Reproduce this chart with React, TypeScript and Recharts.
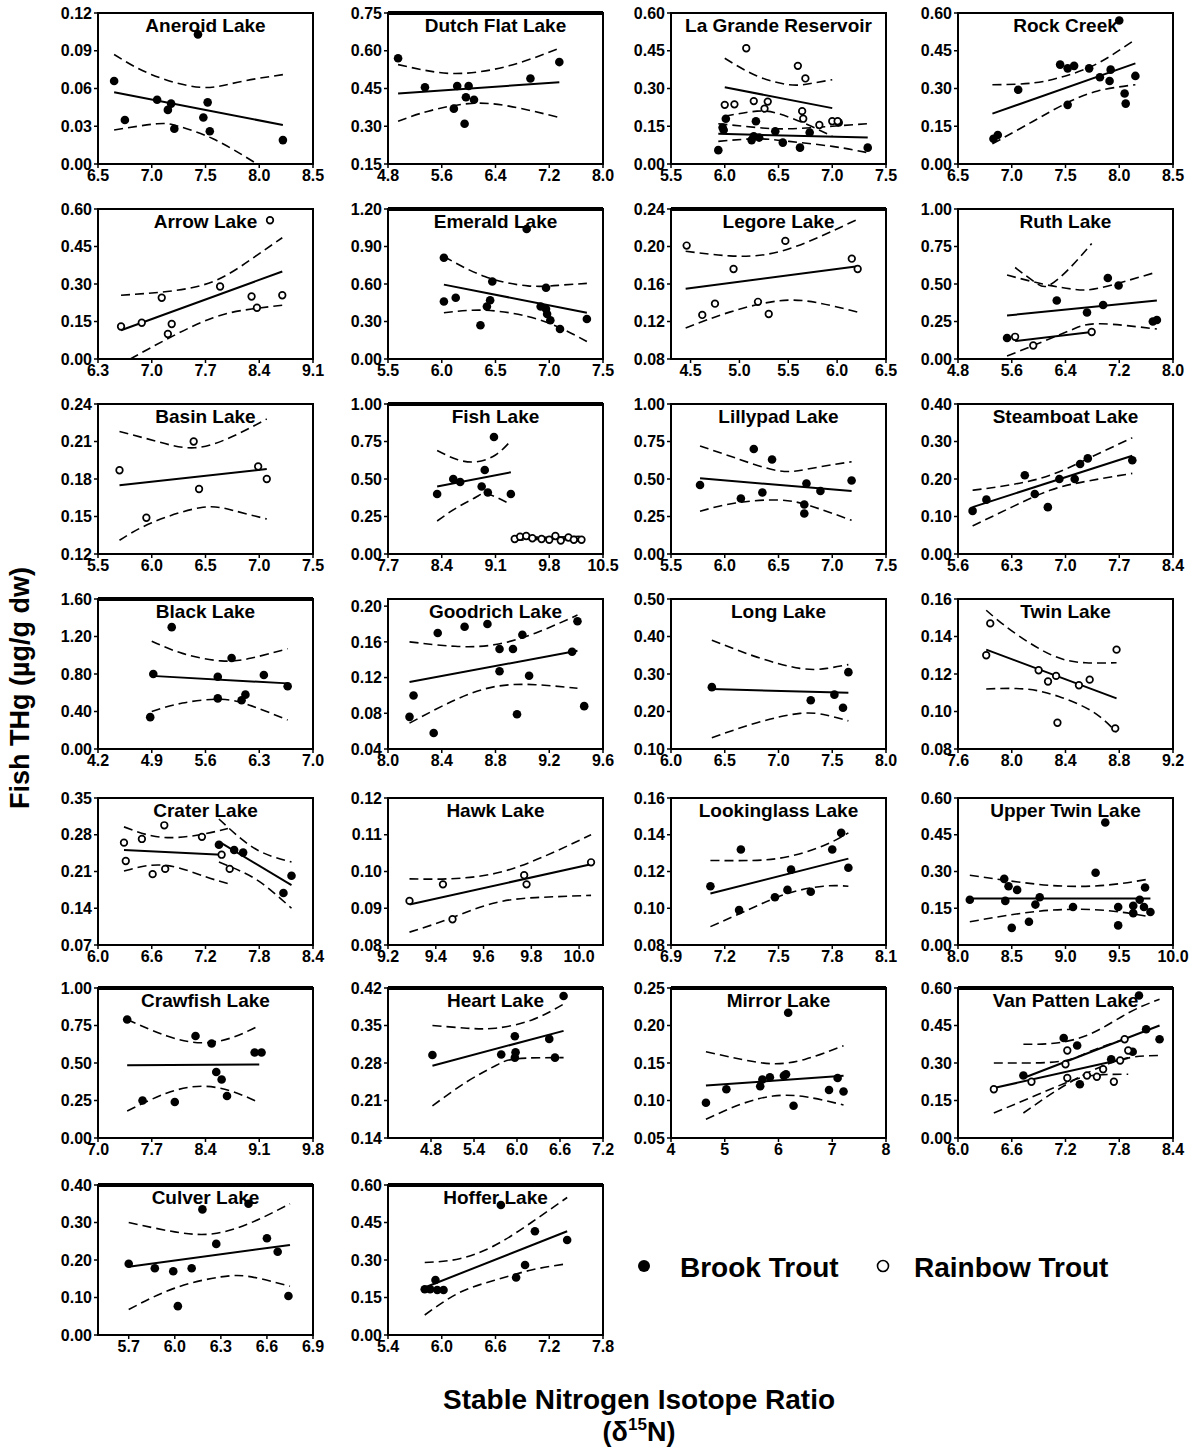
import React from 'react';
import { ComposedChart, Scatter, Line, XAxis, YAxis, ReferenceArea, ReferenceLine, Label } from 'recharts';

type Pt = [number, number];

// ---------- Aneroid Lake ----------
const aneroidX = [6.5, 7.0, 7.5, 8.0, 8.5];
const aneroidY = [0, 0.03, 0.06, 0.09, 0.12];
const aneroidBrook: Pt[] = [[6.65, 0.066], [6.75, 0.035], [7.05, 0.051], [7.15, 0.043], [7.18, 0.048], [7.21, 0.028], [7.43, 0.103], [7.48, 0.037], [7.52, 0.049], [7.54, 0.026], [8.22, 0.019]];
const aneroidFit: Pt[] = [[6.65, 0.057], [8.22, 0.031]];
const aneroidHi: Pt[] = [[6.65, 0.087], [7.0, 0.071], [7.45, 0.061], [7.8, 0.065], [8.22, 0.071]];
const aneroidLo: Pt[] = [[6.65, 0.027], [7.05, 0.032], [7.25, 0.03], [7.57, 0.02], [7.98, 0.0]];

// ---------- Dutch Flat Lake ----------
const dutchX = [4.8, 5.6, 6.4, 7.2, 8.0];
const dutchY = [0.15, 0.3, 0.45, 0.6, 0.75];
const dutchBrook: Pt[] = [[4.95, 0.57], [5.35, 0.455], [5.78, 0.37], [5.83, 0.46], [5.94, 0.31], [5.96, 0.415], [6.0, 0.46], [6.08, 0.405], [6.92, 0.49], [7.35, 0.555]];
const dutchFit: Pt[] = [[4.95, 0.43], [7.35, 0.475]];
const dutchHi: Pt[] = [[4.95, 0.545], [5.4, 0.52], [5.9, 0.51], [6.6, 0.54], [7.35, 0.61]];
const dutchLo: Pt[] = [[4.95, 0.32], [5.4, 0.36], [6.0, 0.39], [6.6, 0.38], [7.35, 0.335]];

// ---------- La Grande Reservoir ----------
const laGrandeX = [5.5, 6.0, 6.5, 7.0, 7.5];
const laGrandeY = [0, 0.15, 0.3, 0.45, 0.6];
const laGrandeBrook: Pt[] = [[5.94, 0.055], [5.98, 0.145], [5.99, 0.135], [6.01, 0.18], [6.25, 0.095], [6.27, 0.11], [6.29, 0.17], [6.32, 0.105], [6.47, 0.13], [6.54, 0.085], [6.7, 0.065], [6.79, 0.125], [7.06, 0.165], [7.33, 0.065]];
const laGrandeRainbow: Pt[] = [[6.0, 0.235], [6.09, 0.237], [6.2, 0.46], [6.27, 0.25], [6.37, 0.22], [6.4, 0.248], [6.68, 0.39], [6.72, 0.21], [6.73, 0.18], [6.75, 0.34], [6.88, 0.155], [7.0, 0.17], [7.05, 0.17]];
const laGrandeBrookFit: Pt[] = [[5.94, 0.12], [7.33, 0.105]];
const laGrandeBrookHi: Pt[] = [[5.94, 0.16], [6.3, 0.145], [6.6, 0.14], [7.0, 0.15], [7.33, 0.16]];
const laGrandeBrookLo: Pt[] = [[5.94, 0.09], [6.3, 0.1], [6.6, 0.09], [7.0, 0.07], [7.33, 0.045]];
const laGrandeRainbowFit: Pt[] = [[6.0, 0.305], [7.0, 0.222]];
const laGrandeRainbowHi: Pt[] = [[6.0, 0.42], [6.3, 0.35], [6.6, 0.315], [6.8, 0.32], [7.0, 0.335]];
const laGrandeRainbowLo: Pt[] = [[6.0, 0.19], [6.3, 0.21], [6.5, 0.2], [6.75, 0.16], [7.0, 0.11]];

// ---------- Rock Creek ----------
const rockX = [6.5, 7.0, 7.5, 8.0, 8.5];
const rockY = [0, 0.15, 0.3, 0.45, 0.6];
const rockBrook: Pt[] = [[6.83, 0.1], [6.87, 0.115], [7.06, 0.295], [7.45, 0.395], [7.52, 0.38], [7.52, 0.235], [7.58, 0.39], [7.72, 0.38], [7.82, 0.345], [7.91, 0.33], [7.92, 0.375], [8.0, 0.57], [8.05, 0.28], [8.06, 0.24], [8.15, 0.35]];
const rockFit: Pt[] = [[6.82, 0.2], [8.15, 0.4]];
const rockHi: Pt[] = [[6.82, 0.315], [7.2, 0.322], [7.5, 0.35], [7.8, 0.4], [8.15, 0.495]];
const rockLo: Pt[] = [[6.82, 0.08], [7.2, 0.17], [7.5, 0.24], [7.8, 0.29], [8.15, 0.315]];

// ---------- Arrow Lake ----------
const arrowX = [6.3, 7.0, 7.7, 8.4, 9.1];
const arrowY = [0, 0.15, 0.3, 0.45, 0.6];
const arrowRainbow: Pt[] = [[6.6, 0.13], [6.87, 0.145], [7.13, 0.245], [7.21, 0.1], [7.26, 0.14], [7.89, 0.29], [8.3, 0.25], [8.37, 0.205], [8.54, 0.555], [8.7, 0.255]];
const arrowFit: Pt[] = [[6.6, 0.115], [8.7, 0.35]];
const arrowHi: Pt[] = [[6.6, 0.255], [7.2, 0.27], [7.8, 0.31], [8.3, 0.4], [8.7, 0.485]];
const arrowLo: Pt[] = [[6.72, 0.0], [7.2, 0.08], [7.8, 0.165], [8.3, 0.2], [8.7, 0.215]];

// ---------- Emerald Lake ----------
const emeraldX = [5.5, 6.0, 6.5, 7.0, 7.5];
const emeraldY = [0, 0.3, 0.6, 0.9, 1.2];
const emeraldBrook: Pt[] = [[6.02, 0.81], [6.02, 0.46], [6.13, 0.49], [6.36, 0.27], [6.42, 0.42], [6.45, 0.47], [6.47, 0.62], [6.79, 1.04], [6.92, 0.42], [6.97, 0.57], [6.97, 0.4], [6.98, 0.36], [7.01, 0.31], [7.1, 0.24], [7.35, 0.32]];
const emeraldFit: Pt[] = [[6.02, 0.595], [7.35, 0.37]];
const emeraldHi: Pt[] = [[6.02, 0.82], [6.4, 0.66], [6.8, 0.585], [7.1, 0.59], [7.35, 0.605]];
const emeraldLo: Pt[] = [[6.02, 0.37], [6.4, 0.39], [6.8, 0.34], [7.1, 0.25], [7.35, 0.14]];

// ---------- Legore Lake ----------
const legoreX = [4.5, 5.0, 5.5, 6.0, 6.5];
const legoreY = [0.08, 0.12, 0.16, 0.2, 0.24];
const legoreRainbow: Pt[] = [[4.46, 0.201], [4.62, 0.127], [4.75, 0.139], [4.94, 0.176], [5.19, 0.141], [5.3, 0.128], [5.47, 0.206], [6.15, 0.187], [6.21, 0.176]];
const legoreFit: Pt[] = [[4.45, 0.155], [6.21, 0.179]];
const legoreHi: Pt[] = [[4.45, 0.195], [4.9, 0.19], [5.3, 0.192], [5.7, 0.205], [6.21, 0.229]];
const legoreLo: Pt[] = [[4.45, 0.113], [4.9, 0.13], [5.4, 0.142], [5.8, 0.14], [6.21, 0.13]];

// ---------- Ruth Lake ----------
const ruthX = [4.8, 5.6, 6.4, 7.2, 8.0];
const ruthY = [0, 0.25, 0.5, 0.75, 1.0];
const ruthBrook: Pt[] = [[5.53, 0.14], [6.27, 0.39], [6.72, 0.31], [6.96, 0.36], [7.03, 0.54], [7.19, 0.49], [7.7, 0.25], [7.76, 0.26]];
const ruthRainbow: Pt[] = [[5.65, 0.148], [5.92, 0.09], [6.79, 0.18]];
const ruthBrookFit: Pt[] = [[5.53, 0.29], [7.76, 0.39]];
const ruthBrookHi: Pt[] = [[5.53, 0.56], [6.06, 0.5], [6.52, 0.465], [6.92, 0.475], [7.76, 0.58]];
const ruthBrookLo: Pt[] = [[5.53, 0.02], [6.06, 0.115], [6.52, 0.2], [6.92, 0.235], [7.76, 0.2]];
const ruthRainbowFit: Pt[] = [[5.65, 0.12], [6.79, 0.18]];
const ruthRainbowHi: Pt[] = [[5.65, 0.61], [5.95, 0.51], [6.15, 0.49], [6.45, 0.6], [6.79, 0.77]];

// ---------- Basin Lake ----------
const basinX = [5.5, 6.0, 6.5, 7.0, 7.5];
const basinY = [0.12, 0.15, 0.18, 0.21, 0.24];
const basinRainbow: Pt[] = [[5.7, 0.187], [5.95, 0.149], [6.39, 0.21], [6.44, 0.172], [6.99, 0.19], [7.07, 0.18]];
const basinFit: Pt[] = [[5.7, 0.175], [7.07, 0.188]];
const basinHi: Pt[] = [[5.7, 0.218], [6.05, 0.21], [6.4, 0.205], [6.75, 0.214], [7.07, 0.228]];
const basinLo: Pt[] = [[5.7, 0.131], [6.0, 0.145], [6.45, 0.157], [6.75, 0.155], [7.07, 0.148]];

// ---------- Fish Lake ----------
const fishX = [7.7, 8.4, 9.1, 9.8, 10.5];
const fishY = [0, 0.25, 0.5, 0.75, 1.0];
const fishBrook: Pt[] = [[8.34, 0.4], [8.55, 0.5], [8.64, 0.48], [8.92, 0.45], [8.96, 0.56], [9.0, 0.41], [9.08, 0.78], [9.3, 0.4]];
const fishRainbow: Pt[] = [[9.35, 0.1], [9.42, 0.115], [9.5, 0.12], [9.58, 0.105], [9.7, 0.1], [9.8, 0.095], [9.88, 0.12], [9.95, 0.09], [10.05, 0.11], [10.12, 0.095], [10.22, 0.095]];
const fishBrookFit: Pt[] = [[8.34, 0.45], [9.3, 0.545]];
const fishBrookHi: Pt[] = [[8.34, 0.69], [8.6, 0.63], [8.85, 0.615], [9.1, 0.66], [9.3, 0.755]];
const fishBrookLo: Pt[] = [[8.34, 0.22], [8.6, 0.31], [8.85, 0.38], [9.0, 0.4], [9.3, 0.33]];
const fishRainbowFit: Pt[] = [[9.35, 0.105], [10.22, 0.1]];
const fishRainbowHi: Pt[] = [[9.35, 0.115], [9.8, 0.112], [10.22, 0.118]];
const fishRainbowLo: Pt[] = [[9.35, 0.09], [9.8, 0.098], [10.22, 0.085]];

// ---------- Lillypad Lake ----------
const lillyX = [5.5, 6.0, 6.5, 7.0, 7.5];
const lillyY = [0, 0.25, 0.5, 0.75, 1.0];
const lillyBrook: Pt[] = [[5.77, 0.46], [6.15, 0.37], [6.27, 0.7], [6.35, 0.41], [6.44, 0.63], [6.74, 0.33], [6.74, 0.27], [6.76, 0.47], [6.89, 0.42], [7.18, 0.49]];
const lillyFit: Pt[] = [[5.77, 0.505], [7.18, 0.42]];
const lillyHi: Pt[] = [[5.77, 0.72], [6.1, 0.64], [6.5, 0.555], [6.8, 0.57], [7.18, 0.615]];
const lillyLo: Pt[] = [[5.77, 0.285], [6.1, 0.34], [6.5, 0.36], [6.8, 0.32], [7.18, 0.225]];

// ---------- Steamboat Lake ----------
const steamX = [5.6, 6.3, 7.0, 7.7, 8.4];
const steamY = [0, 0.1, 0.2, 0.3, 0.4];
const steamBrook: Pt[] = [[5.79, 0.115], [5.97, 0.145], [6.47, 0.21], [6.6, 0.16], [6.77, 0.125], [6.92, 0.2], [7.12, 0.2], [7.19, 0.24], [7.29, 0.255], [7.87, 0.25]];
const steamFit: Pt[] = [[5.79, 0.125], [7.87, 0.262]];
const steamHi: Pt[] = [[5.79, 0.17], [6.3, 0.185], [6.8, 0.21], [7.3, 0.255], [7.87, 0.31]];
const steamLo: Pt[] = [[5.79, 0.075], [6.3, 0.125], [6.8, 0.17], [7.3, 0.195], [7.87, 0.215]];

// ---------- Black Lake ----------
const blackX = [4.2, 4.9, 5.6, 6.3, 7.0];
const blackY = [0, 0.4, 0.8, 1.2, 1.6];
const blackBrook: Pt[] = [[4.88, 0.34], [4.92, 0.8], [5.16, 1.3], [5.76, 0.77], [5.76, 0.54], [5.94, 0.97], [6.07, 0.52], [6.12, 0.58], [6.36, 0.79], [6.67, 0.67]];
const blackFit: Pt[] = [[4.9, 0.78], [6.67, 0.7]];
const blackHi: Pt[] = [[4.9, 1.15], [5.3, 1.02], [5.8, 0.94], [6.2, 0.97], [6.67, 1.07]];
const blackLo: Pt[] = [[4.9, 0.4], [5.3, 0.49], [5.8, 0.53], [6.2, 0.46], [6.67, 0.31]];

// ---------- Goodrich Lake ----------
const goodrichX = [8.0, 8.4, 8.8, 9.2, 9.6];
const goodrichY = [0.04, 0.08, 0.12, 0.16, 0.2];
const goodrichBrook: Pt[] = [[8.16, 0.076], [8.19, 0.1], [8.34, 0.058], [8.37, 0.17], [8.57, 0.177], [8.74, 0.18], [8.83, 0.152], [8.83, 0.127], [8.93, 0.152], [8.96, 0.079], [9.0, 0.168], [9.05, 0.122], [9.37, 0.149], [9.41, 0.183], [9.46, 0.088]];
const goodrichFit: Pt[] = [[8.16, 0.115], [9.41, 0.15]];
const goodrichHi: Pt[] = [[8.16, 0.16], [8.5, 0.155], [8.8, 0.157], [9.1, 0.17], [9.41, 0.19]];
const goodrichLo: Pt[] = [[8.16, 0.069], [8.5, 0.095], [8.8, 0.11], [9.1, 0.112], [9.41, 0.108]];

// ---------- Long Lake ----------
const longX = [6.0, 6.5, 7.0, 7.5, 8.0];
const longY = [0.1, 0.2, 0.3, 0.4, 0.5];
const longBrook: Pt[] = [[6.38, 0.265], [7.3, 0.23], [7.52, 0.245], [7.6, 0.21], [7.65, 0.305]];
const longFit: Pt[] = [[6.38, 0.26], [7.65, 0.25]];
const longHi: Pt[] = [[6.38, 0.39], [6.8, 0.345], [7.2, 0.315], [7.45, 0.315], [7.65, 0.325]];
const longLo: Pt[] = [[6.38, 0.13], [6.8, 0.17], [7.2, 0.195], [7.45, 0.19], [7.65, 0.175]];

// ---------- Twin Lake ----------
const twinX = [7.6, 8.0, 8.4, 8.8, 9.2];
const twinY = [0.08, 0.1, 0.12, 0.14, 0.16];
const twinRainbow: Pt[] = [[7.81, 0.13], [7.84, 0.147], [8.2, 0.122], [8.27, 0.116], [8.33, 0.119], [8.34, 0.094], [8.5, 0.114], [8.58, 0.117], [8.77, 0.091], [8.78, 0.133]];
const twinFit: Pt[] = [[7.81, 0.133], [8.78, 0.107]];
const twinHi: Pt[] = [[7.81, 0.154], [8.0, 0.143], [8.3, 0.13], [8.55, 0.126], [8.78, 0.126]];
const twinLo: Pt[] = [[7.81, 0.112], [8.1, 0.112], [8.35, 0.108], [8.6, 0.1], [8.78, 0.089]];

// ---------- Crater Lake ----------
const craterX = [6.0, 6.6, 7.2, 7.8, 8.4];
const craterY = [0.07, 0.14, 0.21, 0.28, 0.35];
const craterBrook: Pt[] = [[7.35, 0.261], [7.52, 0.251], [7.62, 0.246], [8.07, 0.169], [8.16, 0.202]];
const craterRainbow: Pt[] = [[6.29, 0.265], [6.31, 0.23], [6.49, 0.272], [6.61, 0.205], [6.74, 0.298], [6.75, 0.215], [7.16, 0.276], [7.38, 0.242], [7.47, 0.215]];
const craterBrookFit: Pt[] = [[7.35, 0.267], [8.16, 0.184]];
const craterBrookHi: Pt[] = [[7.35, 0.31], [7.6, 0.272], [7.85, 0.245], [8.16, 0.228]];
const craterBrookLo: Pt[] = [[7.35, 0.228], [7.6, 0.21], [7.85, 0.185], [8.16, 0.14]];
const craterRainbowFit: Pt[] = [[6.29, 0.251], [7.38, 0.242]];
const craterRainbowHi: Pt[] = [[6.29, 0.295], [6.6, 0.278], [6.9, 0.275], [7.2, 0.282], [7.45, 0.292]];
const craterRainbowLo: Pt[] = [[6.29, 0.211], [6.6, 0.222], [6.9, 0.217], [7.2, 0.2], [7.45, 0.187]];

// ---------- Hawk Lake ----------
const hawkX = [9.2, 9.4, 9.6, 9.8, 10.0];
const hawkY = [0.08, 0.09, 0.1, 0.11, 0.12];
const hawkRainbow: Pt[] = [[9.29, 0.092], [9.43, 0.0965], [9.47, 0.087], [9.77, 0.099], [9.78, 0.0965], [10.05, 0.1025]];
const hawkFit: Pt[] = [[9.29, 0.091], [10.05, 0.102]];
const hawkHi: Pt[] = [[9.29, 0.098], [9.45, 0.098], [9.65, 0.0995], [9.85, 0.104], [10.05, 0.11]];
const hawkLo: Pt[] = [[9.29, 0.0835], [9.45, 0.087], [9.65, 0.0915], [9.85, 0.093], [10.05, 0.0935]];

// ---------- Lookinglass Lake ----------
const lookX = [6.9, 7.2, 7.5, 7.8, 8.1];
const lookY = [0.08, 0.1, 0.12, 0.14, 0.16];
const lookBrook: Pt[] = [[7.12, 0.112], [7.28, 0.099], [7.29, 0.132], [7.48, 0.106], [7.55, 0.11], [7.57, 0.121], [7.68, 0.109], [7.8, 0.132], [7.85, 0.141], [7.89, 0.122]];
const lookFit: Pt[] = [[7.12, 0.108], [7.89, 0.127]];
const lookHi: Pt[] = [[7.12, 0.126], [7.35, 0.126], [7.55, 0.128], [7.75, 0.134], [7.89, 0.141]];
const lookLo: Pt[] = [[7.12, 0.09], [7.35, 0.1], [7.55, 0.108], [7.75, 0.112], [7.89, 0.112]];

// ---------- Upper Twin Lake ----------
const upperTwinX = [8.0, 8.5, 9.0, 9.5, 10.0];
const upperTwinY = [0, 0.15, 0.3, 0.45, 0.6];
const upperTwinBrook: Pt[] = [[8.11, 0.185], [8.43, 0.27], [8.44, 0.18], [8.47, 0.24], [8.5, 0.07], [8.55, 0.225], [8.66, 0.095], [8.72, 0.165], [8.76, 0.195], [9.07, 0.155], [9.28, 0.295], [9.37, 0.5], [9.49, 0.155], [9.49, 0.08], [9.63, 0.16], [9.63, 0.13], [9.69, 0.185], [9.73, 0.155], [9.74, 0.235], [9.79, 0.135]];
const upperTwinFit: Pt[] = [[8.11, 0.19], [9.79, 0.19]];
const upperTwinHi: Pt[] = [[8.11, 0.285], [8.6, 0.255], [9.0, 0.24], [9.4, 0.245], [9.79, 0.27]];
const upperTwinLo: Pt[] = [[8.11, 0.095], [8.6, 0.13], [9.0, 0.145], [9.4, 0.14], [9.79, 0.115]];

// ---------- Crawfish Lake ----------
const crawX = [7.0, 7.7, 8.4, 9.1, 9.8];
const crawY = [0, 0.25, 0.5, 0.75, 1.0];
const crawBrook: Pt[] = [[7.38, 0.79], [7.58, 0.25], [8.0, 0.24], [8.27, 0.68], [8.48, 0.63], [8.54, 0.44], [8.61, 0.39], [8.68, 0.28], [9.04, 0.57], [9.13, 0.57]];
const crawFit: Pt[] = [[7.38, 0.485], [9.1, 0.49]];
const crawHi: Pt[] = [[7.38, 0.79], [7.9, 0.68], [8.35, 0.635], [8.75, 0.67], [9.1, 0.75]];
const crawLo: Pt[] = [[7.38, 0.18], [7.9, 0.3], [8.35, 0.345], [8.75, 0.31], [9.1, 0.235]];

// ---------- Heart Lake ----------
const heartX = [4.8, 5.4, 6.0, 6.6, 7.2];
const heartY = [0.14, 0.21, 0.28, 0.35, 0.42];
const heartBrook: Pt[] = [[4.82, 0.295], [5.78, 0.296], [5.97, 0.33], [5.97, 0.29], [5.98, 0.3], [6.45, 0.325], [6.53, 0.29], [6.65, 0.405]];
const heartFit: Pt[] = [[4.82, 0.275], [6.65, 0.34]];
const heartHi: Pt[] = [[4.82, 0.35], [5.3, 0.345], [5.7, 0.345], [6.2, 0.36], [6.65, 0.39]];
const heartLo: Pt[] = [[4.82, 0.2], [5.3, 0.245], [5.7, 0.275], [6.0, 0.288], [6.65, 0.29]];

// ---------- Mirror Lake ----------
const mirrorX = [4, 5, 6, 7, 8];
const mirrorY = [0.05, 0.1, 0.15, 0.2, 0.25];
const mirrorBrook: Pt[] = [[4.65, 0.097], [5.03, 0.115], [5.66, 0.119], [5.7, 0.128], [5.84, 0.131], [6.1, 0.133], [6.14, 0.135], [6.18, 0.217], [6.28, 0.093], [6.94, 0.114], [7.1, 0.13], [7.21, 0.112]];
const mirrorFit: Pt[] = [[4.65, 0.12], [7.21, 0.133]];
const mirrorHi: Pt[] = [[4.65, 0.165], [5.3, 0.155], [5.9, 0.149], [6.5, 0.155], [7.21, 0.173]];
const mirrorLo: Pt[] = [[4.65, 0.075], [5.3, 0.095], [5.9, 0.106], [6.5, 0.105], [7.21, 0.094]];

// ---------- Van Patten Lake ----------
const vanX = [6.0, 6.6, 7.2, 7.8, 8.4];
const vanY = [0, 0.15, 0.3, 0.45, 0.6];
const vanBrook: Pt[] = [[6.73, 0.25], [7.18, 0.4], [7.33, 0.37], [7.36, 0.215], [7.71, 0.315], [7.95, 0.345], [8.02, 0.57], [8.1, 0.435], [8.25, 0.395]];
const vanRainbow: Pt[] = [[6.4, 0.195], [6.82, 0.225], [7.2, 0.295], [7.22, 0.35], [7.22, 0.24], [7.44, 0.25], [7.55, 0.245], [7.62, 0.275], [7.74, 0.225], [7.81, 0.31], [7.86, 0.395], [7.9, 0.35]];
const vanBrookFit: Pt[] = [[6.73, 0.24], [8.25, 0.45]];
const vanBrookHi: Pt[] = [[6.73, 0.375], [7.1, 0.38], [7.5, 0.42], [7.9, 0.5], [8.25, 0.555]];
const vanBrookLo: Pt[] = [[6.73, 0.1], [7.1, 0.19], [7.5, 0.27], [7.9, 0.32], [8.25, 0.33]];
const vanRainbowFit: Pt[] = [[6.4, 0.2], [7.9, 0.32]];
const vanRainbowHi: Pt[] = [[6.4, 0.3], [6.8, 0.3], [7.2, 0.31], [7.5, 0.35], [7.9, 0.4]];
const vanRainbowLo: Pt[] = [[6.4, 0.1], [6.8, 0.16], [7.2, 0.22], [7.5, 0.25], [7.9, 0.255]];

// ---------- Culver Lake ----------
const culverX = [5.7, 6.0, 6.3, 6.6, 6.9];
const culverY = [0, 0.1, 0.2, 0.3, 0.4];
const culverBrook: Pt[] = [[5.7, 0.19], [5.87, 0.178], [5.99, 0.17], [6.02, 0.077], [6.11, 0.178], [6.18, 0.335], [6.27, 0.243], [6.48, 0.35], [6.6, 0.258], [6.67, 0.222], [6.74, 0.104]];
const culverFit: Pt[] = [[5.7, 0.182], [6.75, 0.24]];
const culverHi: Pt[] = [[5.7, 0.3], [6.0, 0.275], [6.25, 0.27], [6.5, 0.3], [6.75, 0.35]];
const culverLo: Pt[] = [[5.7, 0.068], [6.0, 0.125], [6.3, 0.155], [6.5, 0.155], [6.75, 0.13]];

// ---------- Hoffer Lake ----------
const hofferX = [5.4, 6.0, 6.6, 7.2, 7.8];
const hofferY = [0, 0.15, 0.3, 0.45, 0.6];
const hofferBrook: Pt[] = [[5.81, 0.183], [5.87, 0.183], [5.93, 0.22], [5.95, 0.18], [6.02, 0.18], [6.66, 0.52], [6.83, 0.23], [6.93, 0.28], [7.04, 0.415], [7.4, 0.38]];
const hofferFit: Pt[] = [[5.81, 0.19], [7.4, 0.415]];
const hofferHi: Pt[] = [[5.81, 0.29], [6.2, 0.305], [6.6, 0.36], [7.0, 0.45], [7.4, 0.55]];
const hofferLo: Pt[] = [[5.81, 0.08], [6.2, 0.17], [6.6, 0.22], [7.0, 0.26], [7.4, 0.285]];

interface Panel {
  title: string;
  col: number;
  row: number;
  xTicks: number[];
  yTicks: number[];
  xMin?: number;
  xMax?: number;
  yMax?: number;
  xDigits?: number;
  brook?: Pt[];
  rainbow?: Pt[];
  fits: Pt[][];
  bands: Pt[][];
  heavyTop?: boolean;
}

const PANELS: Panel[] = [
  { title: 'Aneroid Lake', col: 0, row: 0, xTicks: aneroidX, yTicks: aneroidY, brook: aneroidBrook, fits: [aneroidFit], bands: [aneroidHi, aneroidLo] },
  { title: 'Dutch Flat Lake', col: 1, row: 0, xTicks: dutchX, yTicks: dutchY, brook: dutchBrook, fits: [dutchFit], bands: [dutchHi, dutchLo], heavyTop: true },
  { title: 'La Grande Reservoir', col: 2, row: 0, xTicks: laGrandeX, yTicks: laGrandeY, brook: laGrandeBrook, rainbow: laGrandeRainbow, fits: [laGrandeBrookFit, laGrandeRainbowFit], bands: [laGrandeBrookHi, laGrandeBrookLo, laGrandeRainbowHi, laGrandeRainbowLo] },
  { title: 'Rock Creek', col: 3, row: 0, xTicks: rockX, yTicks: rockY, brook: rockBrook, fits: [rockFit], bands: [rockHi, rockLo] },
  { title: 'Arrow Lake', col: 0, row: 1, xTicks: arrowX, yTicks: arrowY, rainbow: arrowRainbow, fits: [arrowFit], bands: [arrowHi, arrowLo] },
  { title: 'Emerald Lake', col: 1, row: 1, xTicks: emeraldX, yTicks: emeraldY, brook: emeraldBrook, fits: [emeraldFit], bands: [emeraldHi, emeraldLo], heavyTop: true },
  { title: 'Legore Lake', col: 2, row: 1, xTicks: legoreX, yTicks: legoreY, xMin: 4.3, rainbow: legoreRainbow, fits: [legoreFit], bands: [legoreHi, legoreLo], heavyTop: true },
  { title: 'Ruth Lake', col: 3, row: 1, xTicks: ruthX, yTicks: ruthY, brook: ruthBrook, rainbow: ruthRainbow, fits: [ruthBrookFit, ruthRainbowFit], bands: [ruthBrookHi, ruthBrookLo, ruthRainbowHi] },
  { title: 'Basin Lake', col: 0, row: 2, xTicks: basinX, yTicks: basinY, rainbow: basinRainbow, fits: [basinFit], bands: [basinHi, basinLo] },
  { title: 'Fish Lake', col: 1, row: 2, xTicks: fishX, yTicks: fishY, brook: fishBrook, rainbow: fishRainbow, fits: [fishBrookFit, fishRainbowFit], bands: [fishBrookHi, fishBrookLo, fishRainbowHi, fishRainbowLo], heavyTop: true },
  { title: 'Lillypad Lake', col: 2, row: 2, xTicks: lillyX, yTicks: lillyY, brook: lillyBrook, fits: [lillyFit], bands: [lillyHi, lillyLo] },
  { title: 'Steamboat Lake', col: 3, row: 2, xTicks: steamX, yTicks: steamY, brook: steamBrook, fits: [steamFit], bands: [steamHi, steamLo] },
  { title: 'Black Lake', col: 0, row: 3, xTicks: blackX, yTicks: blackY, brook: blackBrook, fits: [blackFit], bands: [blackHi, blackLo], heavyTop: true },
  { title: 'Goodrich Lake', col: 1, row: 3, xTicks: goodrichX, yTicks: goodrichY, yMax: 0.208, brook: goodrichBrook, fits: [goodrichFit], bands: [goodrichHi, goodrichLo] },
  { title: 'Long Lake', col: 2, row: 3, xTicks: longX, yTicks: longY, brook: longBrook, fits: [longFit], bands: [longHi, longLo] },
  { title: 'Twin Lake', col: 3, row: 3, xTicks: twinX, yTicks: twinY, rainbow: twinRainbow, fits: [twinFit], bands: [twinHi, twinLo] },
  { title: 'Crater Lake', col: 0, row: 4, xTicks: craterX, yTicks: craterY, brook: craterBrook, rainbow: craterRainbow, fits: [craterBrookFit, craterRainbowFit], bands: [craterBrookHi, craterBrookLo, craterRainbowHi, craterRainbowLo] },
  { title: 'Hawk Lake', col: 1, row: 4, xTicks: hawkX, yTicks: hawkY, xMax: 10.1, rainbow: hawkRainbow, fits: [hawkFit], bands: [hawkHi, hawkLo] },
  { title: 'Lookinglass Lake', col: 2, row: 4, xTicks: lookX, yTicks: lookY, brook: lookBrook, fits: [lookFit], bands: [lookHi, lookLo] },
  { title: 'Upper Twin Lake', col: 3, row: 4, xTicks: upperTwinX, yTicks: upperTwinY, brook: upperTwinBrook, fits: [upperTwinFit], bands: [upperTwinHi, upperTwinLo] },
  { title: 'Crawfish Lake', col: 0, row: 5, xTicks: crawX, yTicks: crawY, brook: crawBrook, fits: [crawFit], bands: [crawHi, crawLo], heavyTop: true },
  { title: 'Heart Lake', col: 1, row: 5, xTicks: heartX, yTicks: heartY, xMin: 4.2, brook: heartBrook, fits: [heartFit], bands: [heartHi, heartLo], heavyTop: true },
  { title: 'Mirror Lake', col: 2, row: 5, xTicks: mirrorX, yTicks: mirrorY, xDigits: 0, brook: mirrorBrook, fits: [mirrorFit], bands: [mirrorHi, mirrorLo], heavyTop: true },
  { title: 'Van Patten Lake', col: 3, row: 5, xTicks: vanX, yTicks: vanY, brook: vanBrook, rainbow: vanRainbow, fits: [vanBrookFit, vanRainbowFit], bands: [vanBrookHi, vanBrookLo, vanRainbowHi, vanRainbowLo], heavyTop: true },
  { title: 'Culver Lake', col: 0, row: 6, xTicks: culverX, yTicks: culverY, xMin: 5.5, brook: culverBrook, fits: [culverFit], bands: [culverHi, culverLo], heavyTop: true },
  { title: 'Hoffer Lake', col: 1, row: 6, xTicks: hofferX, yTicks: hofferY, brook: hofferBrook, fits: [hofferFit], bands: [hofferHi, hofferLo], heavyTop: true },
];

// ---------- layout ----------
const FONT = "'Liberation Sans', Arial, Helvetica, sans-serif";
const COL_X = [98, 388, 671, 958];
const ROW_Y = [13, 209, 404, 599, 798, 988, 1185];
const ROW_H = [151, 150, 150, 150, 147, 150, 150];
const PLOT_W = 215;
const AXIS_W = 60;
const TOP_PAD = 12;
const RIGHT_PAD = 20;
const XAXIS_H = 28;

const toRows = (pts: Pt[]) => pts.map(([x, y]) => ({ x, y }));

const BrookDot = (props: any) => <circle cx={props.cx} cy={props.cy} r={4.3} fill="#000" />;
const RainbowDot = (props: any) => (
  <circle cx={props.cx} cy={props.cy} r={3.3} fill="#fff" stroke="#000" strokeWidth={1.7} />
);

function LakePanel({ p }: { p: Panel }) {
  const h = ROW_H[p.row];
  const xd: [number, number] = [p.xMin ?? p.xTicks[0], p.xMax ?? p.xTicks[p.xTicks.length - 1]];
  const yd: [number, number] = [p.yTicks[0], p.yMax ?? p.yTicks[p.yTicks.length - 1]];
  const tick = { fill: '#000', fontSize: 16, fontWeight: 700, fontFamily: FONT };
  return (
    <div style={{ position: 'absolute', left: COL_X[p.col] - AXIS_W, top: ROW_Y[p.row] - TOP_PAD }}>
      <ComposedChart
        width={AXIS_W + PLOT_W + RIGHT_PAD}
        height={TOP_PAD + h + XAXIS_H}
        margin={{ top: TOP_PAD, right: RIGHT_PAD, bottom: 0, left: 0 }}
      >
        <XAxis
          type="number"
          dataKey="x"
          domain={xd}
          ticks={p.xTicks}
          interval={0}
          allowDataOverflow
          height={XAXIS_H}
          tickFormatter={(v: number) => Number(v).toFixed(p.xDigits ?? 1)}
          tick={tick}
          tickSize={4}
          tickMargin={2}
          axisLine={{ stroke: '#000', strokeWidth: 2 }}
          tickLine={{ stroke: '#000', strokeWidth: 1.5 }}
        />
        <YAxis
          type="number"
          dataKey="y"
          domain={yd}
          ticks={p.yTicks}
          interval={0}
          allowDataOverflow
          width={AXIS_W}
          tickFormatter={(v: number) => Number(v).toFixed(2)}
          tick={tick}
          tickSize={4}
          tickMargin={2}
          axisLine={{ stroke: '#000', strokeWidth: 2 }}
          tickLine={{ stroke: '#000', strokeWidth: 1.5 }}
        />
        <ReferenceArea x1={xd[0]} x2={xd[1]} y1={yd[0]} y2={yd[1]} fill="none" fillOpacity={0} stroke="#000" strokeWidth={2}>
          <Label value={p.title} position="insideTop" offset={6} fill="#000" fontSize={19} fontWeight={700} fontFamily={FONT} />
        </ReferenceArea>
        {p.heavyTop && <ReferenceLine y={yd[1]} stroke="#000" strokeWidth={4} />}
        {p.bands.map((b, i) => (
          <Line
            key={`band-${i}`}
            data={toRows(b)}
            dataKey="y"
            type="natural"
            stroke="#000"
            strokeWidth={1.6}
            strokeDasharray="9 5"
            dot={false}
            activeDot={false}
            isAnimationActive={false}
          />
        ))}
        {p.fits.map((f, i) => (
          <Line
            key={`fit-${i}`}
            data={toRows(f)}
            dataKey="y"
            type="linear"
            stroke="#000"
            strokeWidth={2}
            dot={false}
            activeDot={false}
            isAnimationActive={false}
          />
        ))}
        {p.brook && <Scatter data={toRows(p.brook)} dataKey="y" shape={BrookDot} isAnimationActive={false} />}
        {p.rainbow && <Scatter data={toRows(p.rainbow)} dataKey="y" shape={RainbowDot} isAnimationActive={false} />}
      </ComposedChart>
    </div>
  );
}

export default function App() {
  return (
    <div style={{ position: 'absolute', left: 0, top: 0, width: 1204, height: 1452, background: '#fff', fontFamily: FONT }}>
      {PANELS.map((p) => (
        <LakePanel key={p.title} p={p} />
      ))}
      <svg width={1204} height={1452} style={{ position: 'absolute', left: 0, top: 0, pointerEvents: 'none' }}>
        <text
          transform="translate(29,688) rotate(-90)"
          textAnchor="middle"
          fontFamily={FONT}
          fontWeight={700}
          fontSize={27}
          fill="#000"
        >
          Fish THg (µg/g dw)
        </text>
        <text x={639} y={1409} textAnchor="middle" fontFamily={FONT} fontWeight={700} fontSize={28} fill="#000">
          Stable Nitrogen Isotope Ratio
        </text>
        <text x={639} y={1441} textAnchor="middle" fontFamily={FONT} fontWeight={700} fontSize={27} fill="#000">
          (δ<tspan fontSize={17} dy={-11}>15</tspan>
          <tspan dy={11}>N)</tspan>
        </text>
        <circle cx={644} cy={1266} r={6} fill="#000" />
        <text x={680} y={1277} fontFamily={FONT} fontWeight={700} fontSize={28} fill="#000">
          Brook Trout
        </text>
        <circle cx={883} cy={1266} r={5.5} fill="#fff" stroke="#000" strokeWidth={1.6} />
        <text x={914} y={1277} fontFamily={FONT} fontWeight={700} fontSize={28} fill="#000">
          Rainbow Trout
        </text>
      </svg>
    </div>
  );
}
